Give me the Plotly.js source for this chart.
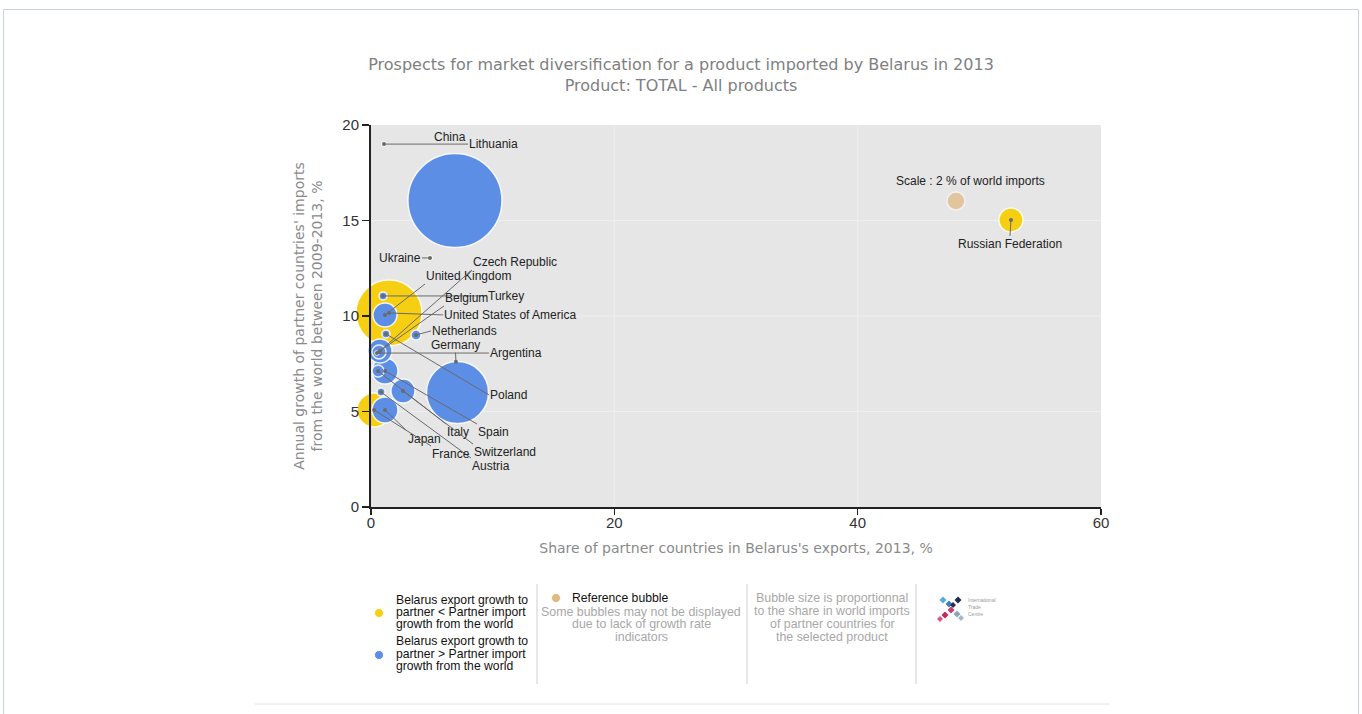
<!DOCTYPE html>
<html><head><meta charset="utf-8">
<script src="https://cdn.plot.ly/plotly-3.0.1.min.js"></script>
<style>html,body{margin:0;padding:0;background:#fff;}#chart{width:1362px;height:714px;}</style>
</head><body><div id="chart"></div>
<script>
// ---------- data ----------
const countries = ['China','Lithuania','Ukraine','Turkey','United States of America','United Kingdom','Poland','Netherlands','Belgium','Czech Republic','Argentina','Spain','Italy','Switzerland','Austria','Japan','France','Germany','Russian Federation'];
const shareInBelarus = [6.90,1.07,4.85,0.99,1.48,1.15,1.23,3.70,0.74,0.66,0.49,1.15,0.58,2.63,0.82,1.15,0.25,7.11,52.6];
const partnerImportGrowth = [16.05,19.0,13.04,11.05,10.16,10.05,9.06,9.01,8.17,8.12,8.06,7.12,7.12,6.07,6.02,5.08,5.08,5.99,15.03];
const bubbleSize = [54.5,0.10,0.10,0.40,26.9,3.56,0.40,0.62,3.56,1.21,0.10,4.17,0.89,3.56,0.40,4.17,7.14,23.7,3.56];
const growthGroup = ['gt','gt','lt','gt','lt','gt','gt','gt','gt','gt','gt','gt','gt','gt','gt','gt','lt','gt','lt'];
const refX = [48.08];
const refY = [16.02];
const refSize = [2];
const refLabel = ['Scale : 2 % of world imports'];
const xTicks = [0,20,40,60];
const yTicks = [0,5,10,15,20];

// ---------- label placement (pixel offsets from bubble centre) ----------
const labelLayout = {
 'China':{dx:-5,dy:-63,arrow:false},
 'Lithuania':{dx:84,dy:0,xa:'left',ya:'middle'},
 'Ukraine':{dx:-8,dy:0,xa:'right',ya:'middle'},
 'Turkey':{dx:104,dy:0,xa:'left',ya:'middle'},
 'United States of America':{dx:54,dy:2,xa:'left',ya:'middle'},
 'United Kingdom':{dx:40,dy:-31,xa:'left',ya:'bottom'},
 'Poland':{dx:103,dy:61,xa:'left',ya:'middle'},
 'Netherlands':{dx:15,dy:-4,xa:'left',ya:'middle'},
 'Belgium':{dx:64,dy:-45,xa:'left',ya:'bottom'},
 'Czech Republic':{dx:93,dy:-82,xa:'left',ya:'bottom'},
 'Argentina':{dx:112,dy:0,xa:'left',ya:'middle'},
 'Spain':{dx:92,dy:53,xa:'left',ya:'top'},
 'Italy':{dx:68,dy:53,xa:'left',ya:'top'},
 'Switzerland':{dx:70,dy:53,xa:'left',ya:'top'},
 'Austria':{dx:90,dy:66,xa:'left',ya:'top'},
 'Japan':{dx:22,dy:21,xa:'left',ya:'top'},
 'France':{dx:57,dy:36,xa:'left',ya:'top'},
 'Germany':{dx:-2,dy:-40,xa:'center',ya:'bottom',standoff:31},
 'Russian Federation':{dx:-1,dy:16,xa:'center',ya:'top'}
};

// ---------- geometry & styles ----------
const L=371,T=125,W=730,H=382,FW=1362,FH=714;
const PX=x=>(x-L)/W, PY=y=>(T+H-y)/H;
const YELLOW='#f7cf12', BLUE='#5c8ee6', TAN='#dfb882';
const SIZEREF = 2*refSize[0]/(18*18);
const labelFont={family:'Liberation Sans, Arial, sans-serif',size:12,color:'#222'};

function groupTrace(g,color){
  const idx=countries.map((c,i)=>i).filter(i=>growthGroup[i]===g).sort((a,b)=>bubbleSize[b]-bubbleSize[a]);
  return {type:'scatter',mode:'markers',cliponaxis:false,hoverinfo:'text',
    x:idx.map(i=>shareInBelarus[i]),y:idx.map(i=>partnerImportGrowth[i]),text:idx.map(i=>countries[i]),
    marker:{color:color,size:idx.map(i=>bubbleSize[i]),sizemode:'area',sizeref:SIZEREF,opacity:1,
      line:{color:'rgba(255,255,255,0.85)',width:1.5}},showlegend:false};
}
const traces=[groupTrace('lt',YELLOW),groupTrace('gt',BLUE),
 {type:'scatter',mode:'markers',cliponaxis:false,x:refX,y:refY,text:refLabel,hoverinfo:'text',
  marker:{color:TAN,size:refSize,sizemode:'area',sizeref:SIZEREF,line:{color:'rgba(255,255,255,0.85)',width:1.5}},showlegend:false}];

const annotations=[];
countries.forEach((c,i)=>{
  const s=labelLayout[c];
  if(s.arrow===false){
    annotations.push({x:shareInBelarus[i],y:partnerImportGrowth[i],xref:'x',yref:'y',text:c,showarrow:false,
      xshift:s.dx,yshift:-s.dy,font:labelFont});
  } else {
    annotations.push({x:shareInBelarus[i],y:partnerImportGrowth[i],xref:'x',yref:'y',text:c,showarrow:true,
      ax:s.dx,ay:s.dy,xanchor:s.xa,yanchor:s.ya,arrowhead:6,arrowsize:1,arrowwidth:1,arrowcolor:'#6a6a6a',
      standoff:s.standoff||0,font:labelFont,borderpad:0});
  }
});
annotations.push({x:refX[0],y:refY[0],xref:'x',yref:'y',text:refLabel[0],showarrow:false,xshift:15,yshift:20,font:labelFont});

// legend block
const legFont={family:'Liberation Sans, Arial, sans-serif',size:12.2,color:'#111'};
const grayFont={family:'Liberation Sans, Arial, sans-serif',size:12.4,color:'#a8a8a8'};
function pa(text,x,y,xa,font){annotations.push({xref:'paper',yref:'paper',x:PX(x),y:PY(y),text:text,showarrow:false,xanchor:xa,yanchor:'middle',font:font});}
[['Belarus export growth to',600],['partner < Partner import',612],['growth from the world',624],
 ['Belarus export growth to',641],['partner > Partner import',654],['growth from the world',666]].forEach(r=>pa(r[0],394,r[1],'left',legFont));
pa('Reference bubble',570,598,'left',legFont);
[['Some bubbles may not be displayed',612],['due to lack of growth rate',624],['indicators',637]].forEach(r=>pa(r[0],641,r[1],'center',grayFont));
[['Bubble size is proportionnal',598],['to the share in world imports',611],['of partner countries for',624],['the selected product',637]].forEach(r=>pa(r[0],832,r[1],'center',grayFont));
const logoFont={family:'Liberation Sans, Arial, sans-serif',size:5,color:'#9a9a9a'};
[['International',600],['Trade',607],['Centre',614]].forEach(r=>pa(r[0],966,r[1],'left',logoFont));

const shapes=[];
// gridlines (below traces)
xTicks.slice(1,-1).forEach(v=>shapes.push({type:'line',layer:'below',xref:'x',yref:'paper',x0:v,x1:v,y0:0,y1:1,line:{color:'#efefef',width:1}}));
yTicks.slice(1,-1).forEach(v=>shapes.push({type:'line',layer:'below',xref:'paper',yref:'y',x0:0,x1:1,y0:v,y1:v,line:{color:'#efefef',width:1}}));
// frame
shapes.push({type:'rect',xref:'paper',yref:'paper',x0:PX(3.5),x1:PX(1358.5),y0:PY(730),y1:PY(9.5),line:{color:'#c9d3dc',width:1},layer:'below'});
shapes.push({type:'line',xref:'paper',yref:'paper',x0:PX(255),x1:PX(1110),y0:PY(704),y1:PY(704),line:{color:'#e2e2e2',width:1}});
[537,747,916].forEach(x=>shapes.push({type:'line',xref:'paper',yref:'paper',x0:PX(x),x1:PX(x),y0:PY(584),y1:PY(684),line:{color:'#cfcfcf',width:1}}));
function dot(cx,cy,r,color){shapes.push({type:'circle',xref:'paper',yref:'paper',x0:PX(cx-r),x1:PX(cx+r),y0:PY(cy+r),y1:PY(cy-r),fillcolor:color,line:{color:'rgba(255,255,255,0.9)',width:1}});}
dot(379,613,4.5,YELLOW);dot(379,655,4.5,BLUE);dot(556,598,4.5,TAN);
// ITC logo: diamonds
function diamond(cx,cy,r,color){shapes.push({type:'path',xref:'paper',yref:'paper',
  path:`M ${PX(cx)} ${PY(cy-r)} L ${PX(cx+r)} ${PY(cy)} L ${PX(cx)} ${PY(cy+r)} L ${PX(cx-r)} ${PY(cy)} Z`,fillcolor:color,line:{width:0}});}
diamond(943,600,3.5,'#5aa9e0');diamond(949,604,3.5,'#3b7fc4');diamond(958,600,3.5,'#1f2b4a');diamond(953,605,3,'#243356');
diamond(951,610,3.5,'#d23a6a');diamond(945,615,3.5,'#c2285a');diamond(940,619,3,'#e0527f');diamond(957,614,3.5,'#8fa3b8');diamond(961,618,3,'#a9b8c8');

const axisFont={family:'Liberation Sans, Arial, sans-serif',size:15,color:'#333'};
const titleFont={family:'DejaVu Sans, sans-serif',size:14,color:'#8a8a8a'};
const layout={
  width:FW,height:FH,margin:{l:L,r:FW-L-W,t:T,b:FH-T-H},
  paper_bgcolor:'#fff',plot_bgcolor:'#e6e6e6',showlegend:false,
  title:{text:'Prospects for market diversification for a product imported by Belarus in 2013<br>Product: TOTAL - All products',
    xref:'container',x:0.5,xanchor:'center',yref:'container',y:1-70/FH,yanchor:'middle',
    font:{family:'DejaVu Sans, sans-serif',size:16,color:'#7f7f7f'}},
  xaxis:{range:[0,60],tickvals:xTicks,ticktext:xTicks.map(String),showgrid:false,zeroline:false,showline:true,linecolor:'#222',linewidth:2,
    ticks:'outside',ticklen:6,tickwidth:1.5,tickcolor:'#222',tickfont:axisFont,ticklabelstandoff:-5,layer:'above traces',fixedrange:true,
    title:{text:"Share of partner countries in Belarus's exports, 2013, %",font:titleFont,standoff:13}},
  yaxis:{range:[0,20],tickvals:yTicks,ticktext:yTicks.map(String),showgrid:false,zeroline:false,showline:true,linecolor:'#222',linewidth:2,
    ticks:'outside',ticklen:7,tickwidth:1.5,tickcolor:'#222',tickfont:axisFont,layer:'above traces',fixedrange:true,
    title:{text:"Annual growth of partner countries' imports<br>from the world between 2009-2013, %",font:titleFont,standoff:16}},
  annotations:annotations,shapes:shapes
};
Plotly.newPlot('chart',traces,layout,{displayModeBar:false,staticPlot:true});
</script></body></html>
